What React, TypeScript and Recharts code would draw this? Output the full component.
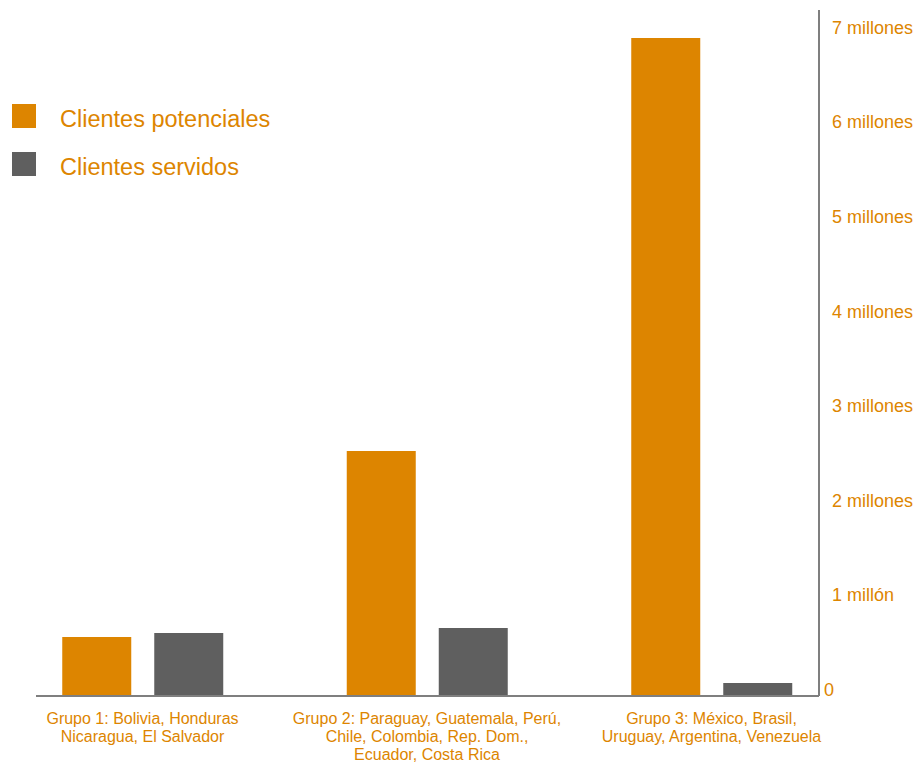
import { BarChart, Bar, XAxis, YAxis } from "recharts";

// Grupos de países (eje X) y valores en clientes
const categories = ["Grupo 1", "Grupo 2", "Grupo 3"];
const categoryLabels = [
  ["Grupo 1: Bolivia, Honduras", "Nicaragua, El Salvador"],
  ["Grupo 2: Paraguay, Guatemala, Perú,", "Chile, Colombia, Rep. Dom.,", "Ecuador, Costa Rica"],
  ["Grupo 3: México, Brasil,", "Uruguay, Argentina, Venezuela"],
];
const potenciales = [624000, 2590000, 6955000];
const servidos = [666000, 719000, 137000];

const yTicks = [0, 1000000, 2000000, 3000000, 4000000, 5000000, 6000000, 7000000];
const yTickLabels = ["0", "1 millón", "2 millones", "3 millones", "4 millones", "5 millones", "6 millones", "7 millones"];

const seriesNames = ["Clientes potenciales", "Clientes servidos"];

const ORANGE = "#DD8500";
const GRAY = "#5F5F5F";
const AXIS = "#7F7F7F";
const FONT = "'Liberation Sans', Arial, sans-serif";

const data = categories.map((c, i) => ({
  name: c,
  potenciales: potenciales[i],
  servidos: servidos[i],
}));

function XTick(props: any) {
  const { x, y, index } = props;
  const lines = categoryLabels[index] || [];
  return (
    <text x={x} y={y} textAnchor="middle" fill={ORANGE} fontSize={16} fontFamily={FONT}>
      {lines.map((l, i) => (
        <tspan key={i} x={x} dy={i === 0 ? 28 : 18}>
          {l}
        </tspan>
      ))}
    </text>
  );
}

function YTick(props: any) {
  const { x, y, payload } = props;
  const idx = yTicks.indexOf(payload.value);
  const label = yTickLabels[idx] ?? "";
  // el "0" va un poco más pegado al eje
  const dx = payload.value === 0 ? 5 : 13;
  return (
    <text x={x + dx} y={y} textAnchor="start" fill={ORANGE} fontSize={18} fontFamily={FONT}>
      {label}
    </text>
  );
}

// leyenda dibujada aparte, encima del gráfico (arriba a la izquierda)
function LegendBox() {
  const colors = [ORANGE, GRAY];
  return (
    <svg width={320} height={200} style={{ position: "absolute", left: 0, top: 0 }}>
      {seriesNames.map((n, i) => (
        <g key={n}>
          <rect x={12} y={104 + i * 48} width={24} height={24} fill={colors[i]} />
          <text x={60} y={127.3 + i * 47.5} fill={ORANGE} fontSize={23.5} fontFamily={FONT}>
            {n}
          </text>
        </g>
      ))}
    </svg>
  );
}

export default function App() {
  return (
    <div style={{ position: "absolute", left: 0, top: 0, width: 915, height: 763, background: "#fff" }}>
      <BarChart
        width={915}
        height={763}
        data={data}
        margin={{ top: 10, left: 36, right: 6, bottom: 7 }}
        barSize={69}
        barGap={23}
      >
        <XAxis
          dataKey="name"
          height={60}
          padding={{ left: -35.75, right: -34.75 }}
          axisLine={{ stroke: AXIS, strokeWidth: 2 }}
          tickLine={false}
          tickSize={0}
          tickMargin={0}
          interval={0}
          tick={<XTick />}
        />
        <YAxis
          orientation="right"
          width={90}
          domain={[0, 7250000]}
          ticks={yTicks}
          interval={0}
          axisLine={{ stroke: AXIS, strokeWidth: 2 }}
          tickLine={false}
          tickSize={0}
          tickMargin={0}
          tick={<YTick />}
        />
        <Bar dataKey="potenciales" name={seriesNames[0]} fill={ORANGE} isAnimationActive={false} />
        <Bar dataKey="servidos" name={seriesNames[1]} fill={GRAY} isAnimationActive={false} />
      </BarChart>
      <LegendBox />
    </div>
  );
}
